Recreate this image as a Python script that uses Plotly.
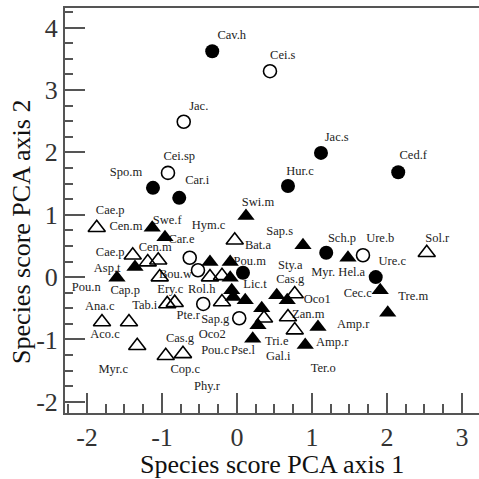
import plotly.graph_objects as go

# ---- data (PCA species scores) ----
filled_circle_x = [-0.33, 1.12, 2.15, 0.68, -1.12, -0.77, 1.19, 1.85, 0.08]
filled_circle_y = [3.62, 1.99, 1.68, 1.46, 1.43, 1.27, 0.39, 0.00, 0.07]

open_circle_x = [0.44, -0.71, -0.92, 1.68, -0.63, -0.52, -0.45, 0.03]
open_circle_y = [3.30, 2.49, 1.67, 0.35, 0.31, 0.11, -0.43, -0.66]

filled_tri_x = [0.12, -1.13, -0.96, -1.36, -1.60, 0.88, 1.48, 1.91, 2.01, 1.08, 0.91,
                -0.36, -0.09, -0.09, -0.07, -0.05, 0.11, 0.33, 0.28, 0.21, 0.53, 0.67]
filled_tri_y = [0.98, 0.79, 0.64, 0.16, -0.01, 0.51, 0.31, -0.21, -0.57, -0.80, -1.09,
                0.24, 0.24, -0.01, -0.21, -0.32, -0.37, -0.50, -0.77, -0.99, -0.29, -0.37]

open_tri_x = [-1.87, -1.39, -1.19, -1.05, -1.03, -0.36, -0.03, -0.20, 0.77, 2.53,
              -1.80, -1.44, -1.33, -0.95, -0.72, -0.93, -0.83, -0.20, 0.68, 0.77, 0.36]
open_tri_y = [0.79, 0.35, 0.24, 0.27, 0.00, 0.00, 0.59, 0.02, -0.27, 0.39,
              -0.72, -0.72, -1.10, -1.26, -1.23, -0.43, -0.41, -0.40, -0.64, -0.85, -0.66]

label_text = ["Cav.h", "Cei.s", "Jac.", "Jac.s", "Ced.f", "Cei.sp", "Spo.m", "Car.i", "Hur.c",
              "Swi.m", "Cae.p", "Cen.m", "Swe.f", "Hym.c", "Car.e", "Sap.s", "Bat.a", "Cae.p",
              "Cen.m", "Asp.t", "Sch.p", "Ure.b", "Sol.r", "Ure.c", "Myr.", "Hel.a", "Pou.m",
              "Sty.a", "Cas.g", "Lic.t", "Bou.w", "Pou.n", "Cap.p", "Ery.c", "Rol.h", "Ana.c",
              "Tab.i", "Aco.c", "Pte.r", "Sap.g", "Cas.g", "Oco2", "Pou.c", "Pse.l", "Tri.e",
              "Gal.i", "Oco1", "Zan.m", "Amp.r", "Amp.r", "Ter.o", "Cec.c", "Tre.m", "Myr.c",
              "Cop.c", "Phy.r"]
label_x = [-0.07, 0.61, -0.51, 1.33, 2.35, -0.77, -1.48, -0.53, 0.84,
           0.28, -1.69, -1.48, -0.93, -0.38, -0.74, 0.57, 0.28, -1.69,
           -1.09, -1.73, 1.40, 1.91, 2.67, 2.07, 1.15, 1.53, 0.17,
           0.71, 0.71, 0.24, -0.82, -2.01, -1.49, -0.89, -0.47, -1.83,
           -1.23, -1.76, -0.65, -0.29, -0.76, -0.33, -0.29, 0.08, 0.53,
           0.55, 1.07, 0.95, 1.55, 1.27, 1.15, 1.61, 2.35, -1.65,
           -0.69, -0.40]
label_y = [3.86, 3.54, 2.73, 2.23, 1.94, 1.92, 1.67, 1.54, 1.68,
           1.19, 1.06, 0.80, 0.90, 0.82, 0.60, 0.72, 0.50, 0.39,
           0.47, 0.13, 0.61, 0.61, 0.61, 0.24, 0.07, 0.07, 0.24,
           0.18, -0.05, -0.13, 0.03, -0.17, -0.22, -0.20, -0.21, -0.48,
           -0.46, -0.93, -0.62, -0.69, -0.99, -0.93, -1.18, -1.18, -1.04,
           -1.28, -0.37, -0.61, -0.77, -1.06, -1.47, -0.27, -0.32, -1.49,
           -1.49, -1.76]

x_ticks = [-2, -1, 0, 1, 2, 3]
y_ticks = [-2, -1, 0, 1, 2, 3, 4]

SERIF = "Liberation Serif, Times New Roman, serif"

fig = go.Figure()

fig.add_trace(go.Scatter(
    x=label_x, y=label_y, text=label_text, mode="text",
    textposition="middle center",
    textfont=dict(family=SERIF, size=12.5, color="#222222"),
    hoverinfo="skip", showlegend=False))

fig.add_trace(go.Scatter(
    x=open_tri_x, y=open_tri_y, mode="markers", showlegend=False,
    marker=dict(symbol="triangle-up-open", size=15, color="black", line=dict(width=1.6, color="black"))))
fig.add_trace(go.Scatter(
    x=filled_tri_x, y=filled_tri_y, mode="markers", showlegend=False,
    marker=dict(symbol="triangle-up", size=15, color="black", line=dict(width=0))))
fig.add_trace(go.Scatter(
    x=open_circle_x, y=open_circle_y, mode="markers", showlegend=False,
    marker=dict(symbol="circle-open", size=13, color="black", line=dict(width=1.6, color="black"))))
fig.add_trace(go.Scatter(
    x=filled_circle_x, y=filled_circle_y, mode="markers", showlegend=False,
    marker=dict(symbol="circle", size=14, color="black", line=dict(width=0))))

fig.update_layout(
    width=479, height=479,
    margin=dict(l=65, r=0, t=8, b=66),
    paper_bgcolor="white", plot_bgcolor="white",
    font=dict(family=SERIF, color="#333333"),
    xaxis=dict(
        range=[-2.293, 3.227], tickvals=x_ticks, ticktext=[str(v) for v in x_ticks],
        showgrid=False, zeroline=False, showline=True, linecolor="#555555", linewidth=2,
        mirror=True, ticks="inside", ticklen=20, tickwidth=1.5, tickcolor="#555555",
        minor=dict(ticks="inside", ticklen=9, tickwidth=1.5, tickcolor="#555555", dtick=0.25, tick0=0),
        tickfont=dict(family=SERIF, size=26, color="#333333")),
    yaxis=dict(
        range=[-2.178, 4.3125], tickvals=y_ticks, ticktext=[str(v) for v in y_ticks],
        showgrid=False, zeroline=False, showline=True, linecolor="#555555", linewidth=2,
        ticks="inside", ticklen=20, tickwidth=1.5, tickcolor="#555555",
        minor=dict(ticks="inside", ticklen=8, tickwidth=1.5, tickcolor="#555555", dtick=0.25, tick0=0),
        tickfont=dict(family=SERIF, size=26, color="#333333")),
    annotations=[
        dict(text="Species score PCA axis 1", xref="paper", yref="paper",
             x=0.5, y=-0.128, xanchor="center", yanchor="middle", showarrow=False,
             font=dict(family=SERIF, size=26, color="#111111")),
        dict(text="Species score PCA axis 2", xref="paper", yref="paper",
             x=-0.104, y=0.447, xanchor="center", yanchor="middle", showarrow=False,
             textangle=-90, font=dict(family=SERIF, size=26, color="#111111")),
    ],
)

fig.write_html("out.html")
